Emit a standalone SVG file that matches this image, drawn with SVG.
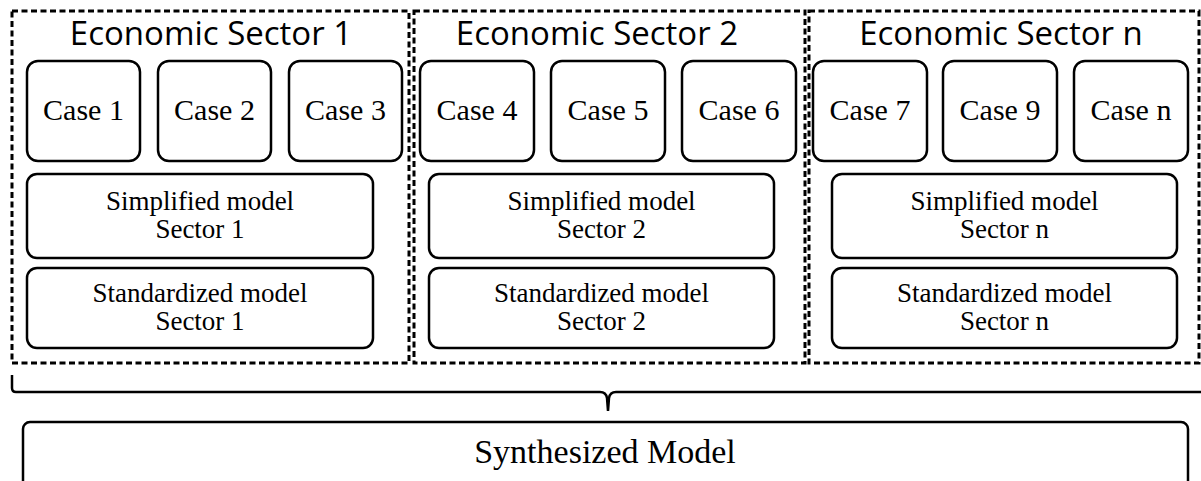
<svg xmlns="http://www.w3.org/2000/svg" width="1201" height="481" viewBox="0 0 1201 481">
<style>
.sector{fill:none;stroke:#000;stroke-width:3;stroke-dasharray:6 3.5}
.box{fill:#fff;stroke:#000;stroke-width:2.5}
.title{font-family:"Open Sans","Noto Sans",sans-serif;font-size:33px;fill:#000;text-anchor:middle}
.case{font-family:"Liberation Serif","Times New Roman",serif;font-size:30px;fill:#000;text-anchor:middle}
.model{font-family:"Liberation Serif","Times New Roman",serif;font-size:27px;fill:#000;text-anchor:middle}
.synth{font-family:"Liberation Serif","Times New Roman",serif;font-size:34px;fill:#000;text-anchor:middle}
.conn{fill:none;stroke:#000;stroke-width:2.5}
</style>
<rect width="1201" height="481" fill="#fff"/>
<g id="sector1">
<rect class="sector" x="12" y="11" width="397" height="352"/>
<text class="title" x="211" y="45">Economic Sector 1</text>
</g>
<g id="sector2">
<rect class="sector" x="414" y="11" width="391" height="352"/>
<text class="title" x="597" y="45">Economic Sector 2</text>
</g>
<g id="sectorn">
<rect class="sector" x="809" y="11" width="390" height="352"/>
<text class="title" x="1001" y="45">Economic Sector n</text>
</g>
<g id="case1"><rect class="box" x="27" y="61" width="113" height="100" rx="11"/><text class="case" x="83.5" y="120">Case 1</text></g>
<g id="case2"><rect class="box" x="158" y="61" width="113" height="100" rx="11"/><text class="case" x="214.5" y="120">Case 2</text></g>
<g id="case3"><rect class="box" x="289" y="61" width="113" height="100" rx="11"/><text class="case" x="345.5" y="120">Case 3</text></g>
<g id="case4"><rect class="box" x="420" y="61" width="114" height="100" rx="11"/><text class="case" x="477" y="120">Case 4</text></g>
<g id="case5"><rect class="box" x="551" y="61" width="114" height="100" rx="11"/><text class="case" x="608" y="120">Case 5</text></g>
<g id="case6"><rect class="box" x="682" y="61" width="114" height="100" rx="11"/><text class="case" x="739" y="120">Case 6</text></g>
<g id="case7"><rect class="box" x="813" y="61" width="114" height="100" rx="11"/><text class="case" x="870" y="120">Case 7</text></g>
<g id="case9"><rect class="box" x="943" y="61" width="114" height="100" rx="11"/><text class="case" x="1000" y="120">Case 9</text></g>
<g id="casen"><rect class="box" x="1074" y="61" width="114" height="100" rx="11"/><text class="case" x="1131" y="120">Case n</text></g>
<g id="simplified1"><rect class="box" x="27" y="174" width="346" height="84" rx="10"/><text class="model" x="200" y="210">Simplified model</text><text class="model" x="200" y="238">Sector 1</text></g>
<g id="standardized1"><rect class="box" x="27" y="268" width="346" height="80" rx="10"/><text class="model" x="200" y="302">Standardized model</text><text class="model" x="200" y="330">Sector 1</text></g>
<g id="simplified2"><rect class="box" x="429" y="174" width="345" height="84" rx="10"/><text class="model" x="601.5" y="210">Simplified model</text><text class="model" x="601.5" y="238">Sector 2</text></g>
<g id="standardized2"><rect class="box" x="429" y="268" width="345" height="80" rx="10"/><text class="model" x="601.5" y="302">Standardized model</text><text class="model" x="601.5" y="330">Sector 2</text></g>
<g id="simplifiedn"><rect class="box" x="832" y="174" width="345" height="84" rx="10"/><text class="model" x="1004.5" y="210">Simplified model</text><text class="model" x="1004.5" y="238">Sector n</text></g>
<g id="standardizedn"><rect class="box" x="832" y="268" width="345" height="80" rx="10"/><text class="model" x="1004.5" y="302">Standardized model</text><text class="model" x="1004.5" y="330">Sector n</text></g>
<g id="connectors">
<path class="conn" d="M12,375 V388 Q12,392 16,392 H600 Q606,392 607,398 L608,411 L609,398 Q610,392 616,392 H1210"/>
</g>
<g id="synthesized">
<rect class="box" x="23" y="422" width="1165" height="100" rx="7"/>
<text class="synth" x="605" y="463">Synthesized Model</text>
</g>
</svg>
